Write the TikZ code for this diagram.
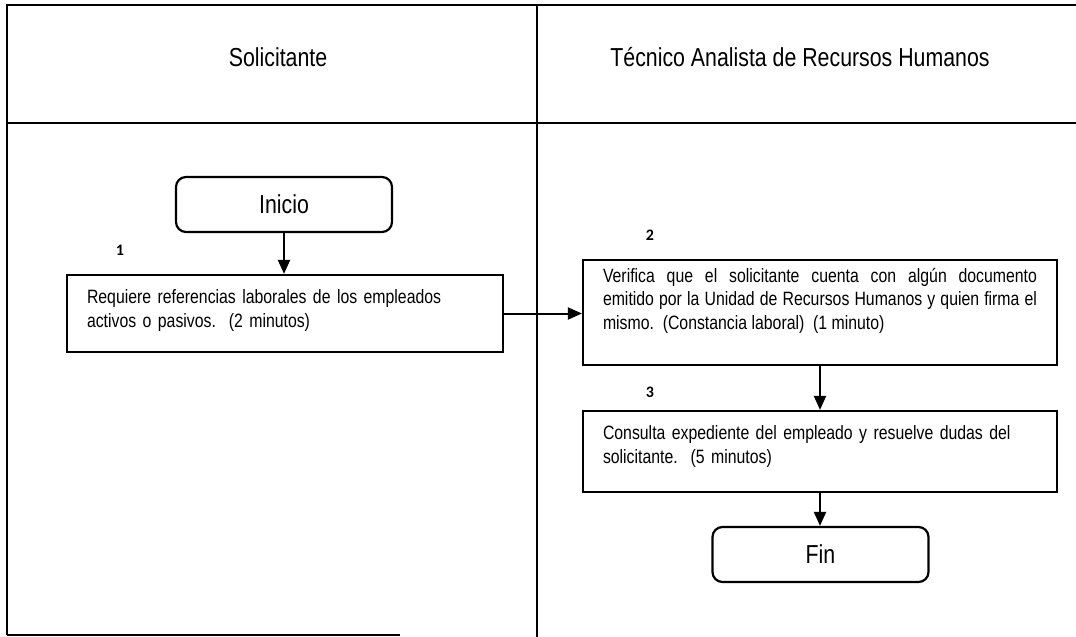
\documentclass[tikz,border=0pt]{standalone}
\usepackage{fontspec}
\setmainfont{Liberation Sans}[FakeStretch=0.82]
\newfontfamily\numfont{Carlito}
\usetikzlibrary{positioning, arrows.meta, calc}
\frenchspacing
\tikzset{
  frm/.style  = {line width=2.2pt},
  hdr/.style  = {font=\fontsize{26}{30}\selectfont, inner sep=0pt},
  term/.style = {draw, rectangle, rounded corners=10pt, line width=2.2pt,
                 minimum width=216pt, minimum height=55pt,
                 font=\fontsize{26}{30}\selectfont},
  blk/.style  = {draw, rectangle, line width=2.2pt, inner xsep=20pt,
                 font=\fontsize{19.3}{23.5}\selectfont},
  num/.style  = {font=\numfont\bfseries\fontsize{16}{18}\selectfont, inner sep=0pt},
  ar/.style   = {-{Triangle[length=14pt, width=12pt]}, line width=2pt},
}

\begin{document}
\begin{tikzpicture}[x=1pt, y=-1pt]
  \useasboundingbox (0,0) rectangle (1076,637);
  % lanes
  \draw[frm] (7,635) -- (7,5) -- (1076,5);
  \draw[frm] (7,123) -- (1076,123);
  \draw[frm] (537,5) -- (537,637);
  \draw[frm] (7,635) -- (400,635);
  \node[hdr] (sol) at (278,57) {Solicitante};
  \node[hdr] (tec) at (800,57) {Técnico Analista de Recursos Humanos};
  % steps
  \node[term] (inicio) at (284,204.5) {Inicio};
  \node[blk, text width=396pt, minimum height=77pt, align=left] (req) at (285,313.5)
    {Requiere referencias laborales de los empleados\\
     activos o pasivos.~ (2 minutos)\rule[-10pt]{0pt}{0pt}};
  \node[blk, text width=434pt, minimum height=105pt, align=justify] (verif) at (820,312.5)
    {Verifica que el solicitante cuenta con algún documento\linebreak
     emitido por la Unidad de Recursos Humanos y quien firma el\linebreak
     mismo.~ (Constancia laboral)~ (1 minuto)\rule[-28pt]{0pt}{0pt}};
  \node[blk, text width=434pt, minimum height=81pt, align=left] (consul) at (820,451.5)
    {Consulta expediente del empleado y resuelve dudas del\\
     solicitante.~ (5 minutos)\rule[-14pt]{0pt}{0pt}};
  \node[term] (fin) at (820.5,554.5) {Fin};
  \node[num] (n1) at (120,250) {1};
  \node[num] (n2) at (650,235) {2};
  \node[num] (n3) at (650,392) {3};
  % flow
  \draw[ar] (inicio.south) -- (inicio.south |- req.north);
  \draw[ar] (req.east) -- (req.east -| verif.west);
  \draw[ar] (verif) -- (consul);
  \draw[ar] (consul.south) -- (consul.south |- fin.north);
\end{tikzpicture}
\end{document}
